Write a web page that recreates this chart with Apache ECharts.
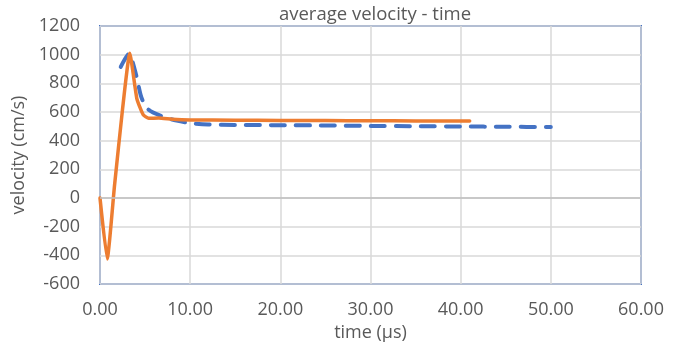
<!DOCTYPE html>
<html>
<head>
<meta charset="utf-8">
<script src="https://cdn.jsdelivr.net/npm/echarts@6/dist/echarts.min.js"></script>
<style>
  html, body { margin: 0; padding: 0; background: #ffffff; }
  #chart { width: 684px; height: 349px; }
</style>
</head>
<body>
<div id="chart"></div>
<script>
// Time axis (µs) and velocity (cm/s) samples for the two curves
const dashedTime = [2.3, 3.2, 4.0, 4.6, 5.4, 7.0, 8.5, 10, 12, 15, 20, 25, 30, 35, 40, 45, 50];
const dashedVelocity = [915, 1005, 860, 700, 615, 567, 540, 522, 513, 510, 508, 506, 503, 501, 499, 497, 495];

const solidTime = [0, 0.8, 1.6, 2.5, 3.3, 4.1, 4.8, 5.4, 6.5, 8, 10, 15, 20, 25, 30, 35, 41];
const solidVelocity = [0, -425, 80, 620, 1010, 690, 580, 556, 558, 550, 545, 543, 541, 540, 539, 538, 537];

const xTicks = { min: 0, max: 60, step: 10 };
const yTicks = { min: -600, max: 1200, step: 200 };

const titleText = 'average velocity - time';
const xName = 'time (µs)';
const yName = 'velocity (cm/s)';

function pairs(xs, ys) {
  return xs.map((x, i) => [x, ys[i]]);
}

const textColor = '#595959';
const fontFamily = '"Open Sans", sans-serif';

const chart = echarts.init(document.getElementById('chart'), null, { renderer: 'canvas' });
chart.setOption({
  animation: false,
  backgroundColor: '#ffffff',
  title: {
    text: titleText,
    left: 370,
    top: 0,
    textAlign: 'center',
    textStyle: { color: textColor, fontSize: 18.5, fontWeight: 'normal', fontFamily: fontFamily }
  },
  grid: {
    left: 100, right: 43, top: 26, bottom: 65,
    show: true,
    borderColor: '#4472c4',
    borderWidth: 2,
    backgroundColor: 'transparent'
  },
  xAxis: {
    type: 'value',
    min: xTicks.min, max: xTicks.max, interval: xTicks.step,
    name: xName,
    nameLocation: 'middle',
    nameGap: 40,
    nameTextStyle: { color: textColor, fontSize: 18, fontFamily: fontFamily },
    axisLine: { show: false },
    axisTick: { show: false },
    axisLabel: {
      color: textColor, fontSize: 18, fontFamily: fontFamily, margin: 17,
      formatter: v => v.toFixed(2)
    },
    splitLine: { show: true, lineStyle: { color: '#d9d9d9', width: 1.5 } }
  },
  yAxis: {
    type: 'value',
    min: yTicks.min, max: yTicks.max, interval: yTicks.step,
    name: yName,
    nameLocation: 'middle',
    nameGap: 60,
    nameTextStyle: { color: textColor, fontSize: 18, fontFamily: fontFamily },
    axisLine: { show: false },
    axisTick: { show: false },
    axisLabel: {
      color: textColor, fontSize: 18, fontFamily: fontFamily, margin: 20,
      formatter: v => String(v)
    },
    splitLine: { show: true, lineStyle: { color: '#d9d9d9', width: 1.5 } }
  },
  series: [
    {
      type: 'line',
      data: pairs(dashedTime, dashedVelocity),
      showSymbol: false,
      smooth: 0.25,
      lineStyle: { color: '#4472c4', width: 4, type: [14, 11], cap: 'round' },
      markLine: {
        silent: true,
        symbol: 'none',
        label: { show: false },
        lineStyle: { color: '#bfbfbf', width: 1.5, type: 'solid' },
        data: [{ yAxis: 0 }]
      },
      z: 2
    },
    {
      type: 'line',
      data: pairs(solidTime, solidVelocity),
      showSymbol: false,
      smooth: 0.15,
      lineStyle: { color: '#ed7d31', width: 3.5, cap: 'round', join: 'round' },
      z: 3
    }
  ]
});
</script>
</body>
</html>
